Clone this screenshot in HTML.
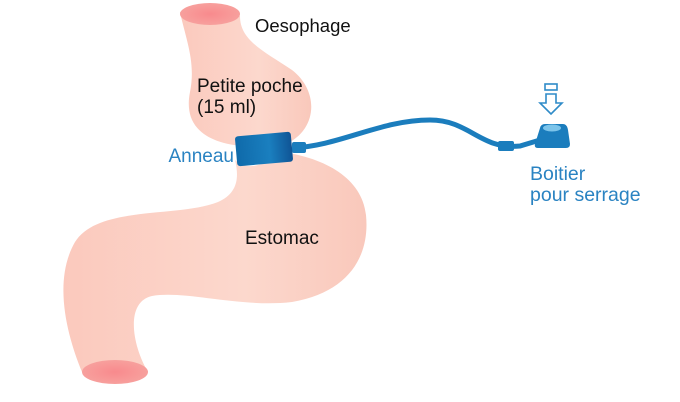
<!DOCTYPE html>
<html><head><style>body{margin:0;background:#fff}svg{display:block}text{font-family:"Liberation Sans",sans-serif}</style></head><body>
<svg width="680" height="402" viewBox="0 0 680 402" xmlns="http://www.w3.org/2000/svg">
<defs>
<linearGradient id="pk" x1="0" y1="0" x2="1" y2="0"><stop offset="0" stop-color="#fbc9bd"/><stop offset="0.6" stop-color="#fcd8cd"/><stop offset="1" stop-color="#f9c8bb"/></linearGradient>
<radialGradient id="hole" cx="0.5" cy="0.5" r="0.6"><stop offset="0" stop-color="#f88a8d"/><stop offset="1" stop-color="#f7a4a0"/></radialGradient>
<linearGradient id="bl" x1="0" y1="0" x2="1" y2="0"><stop offset="0" stop-color="#0f6aaa"/><stop offset="0.6" stop-color="#1a7fbf"/><stop offset="1" stop-color="#0f5495"/></linearGradient>
</defs>
<path d="M235,160 C245,170 262,168 282,152 C325,158 362,178 366,215 C370,255 350,292 292,302 C240,308 185,290 152,296 C125,302 132,345 148,372 L82,372 C68,338 52,282 75,242 C98,205 178,218 218,202 C236,194 240,180 235,160 Z" fill="url(#pk)"/>
<path d="M180,12 C186,40 196,62 190,92 C184,122 200,142 242,146 L290,142 C318,126 318,90 292,70 C262,50 240,40 240,16 Z" fill="url(#pk)"/>
<ellipse cx="210" cy="14" rx="30" ry="11" fill="url(#hole)"/>
<ellipse cx="115" cy="372" rx="33" ry="12" fill="url(#hole)"/>
<path d="M292,148 C340,146 380,120 430,120 C470,120 480,150 520,146 L540,140" fill="none" stroke="#1b7dbd" stroke-width="5"/>
<rect x="292" y="142" width="14" height="11" rx="2" fill="#1b7dbd"/>
<rect x="498" y="141" width="16" height="10" rx="2" fill="#1b7dbd"/>
<g transform="rotate(-5 264 149)"><rect x="236" y="134" width="56" height="30" rx="3" fill="url(#bl)"/></g>
<path d="M540,128 Q541,124 545,124 L563,124 Q567,124 568,130 L570,144 Q570,148 566,148 L538,148 Q534,148 535,144 Z" fill="#1b7dbd"/>
<ellipse cx="552" cy="128" rx="9" ry="3.5" fill="#7cc4ea"/>
<rect x="545" y="84" width="12" height="6" fill="none" stroke="#2f8bc8" stroke-width="1.6"/>
<path d="M546,94 L556,94 L556,103 L562,103 L551,114 L540,103 L546,103 Z" fill="none" stroke="#2f8bc8" stroke-width="1.6"/>
<text x="255" y="32" font-size="18.5" fill="#111">Oesophage</text>
<text x="197" y="92" font-size="19" fill="#111">Petite poche</text>
<text x="197" y="113" font-size="19" fill="#111">(15 ml)</text>
<text x="234" y="162" font-size="19" fill="#2a83c2" text-anchor="end">Anneau</text>
<text x="245" y="244" font-size="19" fill="#111">Estomac</text>
<text x="530" y="180" font-size="19.5" fill="#2a83c2">Boitier</text>
<text x="530" y="201" font-size="19.5" fill="#2a83c2">pour serrage</text>
</svg>
</body></html>
